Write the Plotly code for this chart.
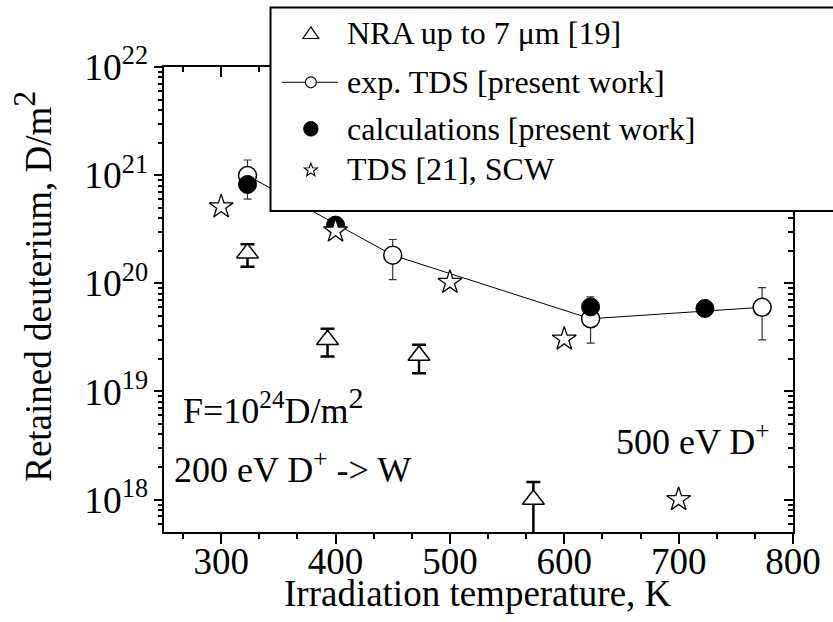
import math
import plotly.graph_objects as go

# --- data ---------------------------------------------------------------
# NRA up to 7 um [19]
T_NRA = [323, 393, 473, 573]
D_NRA = [1.9e20, 3.0e19, 2.15e19, 1.0e18]
D_NRA_HI = [2.3e20, 3.8e19, 2.7e19, 1.45e18]
D_NRA_LO = [1.42e20, 2.1e19, 1.47e19, 4.0e17]

# exp. TDS [present work]
T_EXP = [323, 450, 623, 773]
D_EXP = [9.9e20, 1.82e20, 4.7e19, 6.0e19]
D_EXP_HI = [1.38e21, 2.54e20, 7.5e19, 9.1e19]
D_EXP_LO = [6.0e20, 1.08e20, 2.8e19, 3.0e19]

# calculations [present work]
T_CALC = [323, 400, 623, 723]
D_CALC = [8.2e20, 3.45e20, 6.05e19, 5.85e19]

# TDS [21], SCW
T_SCW = [300, 400, 500, 600, 700]
D_SCW = [5.1e20, 3.05e20, 1.02e20, 3.05e19, 1.0e18]

X_TICKS = [300, 400, 500, 600, 700, 800]
Y_TICKS = [1e18, 1e19, 1e20, 1e21, 1e22]

X_RANGE = [250, 800]
Y_RANGE_LOG = [17.7, 22]

LEGEND_LABELS = ["NRA up to 7 \u03bcm [19]", "exp. TDS [present work]",
                 "calculations [present work]", "TDS [21], SCW"]

FONT = "Liberation Serif, Times New Roman, serif"

# page geometry of the plotting area (px)
W, H = 833, 622
L, R, T, B = 164, 33, 66.7, 90.3
PW, PH = W - L - R, H - T - B


def px(x):
    return (x - L) / PW


def py(y):
    return (H - B - y) / PH


def plus(hi, v):
    return [h - x for h, x in zip(hi, v)]


def minus(lo, v):
    return [x - l for l, x in zip(lo, v)]


fig = go.Figure()

fig.add_trace(go.Scatter(
    x=T_NRA, y=D_NRA, mode="markers", name=LEGEND_LABELS[0],
    marker=dict(symbol="triangle-up", size=19, color="white",
                line=dict(color="black", width=1.5)),
    error_y=dict(type="data", symmetric=False,
                 array=plus(D_NRA_HI, D_NRA),
                 arrayminus=minus(D_NRA_LO, D_NRA),
                 color="black", thickness=2.5, width=7),
))

fig.add_trace(go.Scatter(
    x=T_EXP, y=D_EXP, mode="lines+markers", name=LEGEND_LABELS[1],
    line=dict(color="black", width=1),
    marker=dict(symbol="circle", size=18, color="white",
                line=dict(color="black", width=1.5)),
    error_y=dict(type="data", symmetric=False,
                 array=plus(D_EXP_HI, D_EXP),
                 arrayminus=minus(D_EXP_LO, D_EXP),
                 color="#333333", thickness=1.2, width=4),
))

fig.add_trace(go.Scatter(
    x=T_CALC, y=D_CALC, mode="markers", name=LEGEND_LABELS[2],
    marker=dict(symbol="circle", size=18, color="black",
                line=dict(color="black", width=1)),
))

fig.add_trace(go.Scatter(
    x=T_SCW, y=D_SCW, mode="markers", name=LEGEND_LABELS[3],
    marker=dict(symbol="star", size=18, color="white",
                line=dict(color="black", width=1.3)),
))

# carrier for the top / right frame axes
fig.add_trace(go.Scatter(x=[None], y=[None], xaxis="x2", yaxis="y2",
                         showlegend=False, hoverinfo="skip"))

x_dtick = X_TICKS[1] - X_TICKS[0]
y_dtick = math.log10(Y_TICKS[1]) - math.log10(Y_TICKS[0])

axis_common = dict(showgrid=False, zeroline=False, showline=True,
                   linecolor="black", linewidth=2, tickcolor="black")
x_ticks = dict(range=X_RANGE, tickmode="linear", tick0=X_TICKS[0],
               dtick=x_dtick)
y_ticks = dict(type="log", range=Y_RANGE_LOG, tickmode="linear",
               tick0=0, dtick=y_dtick)

# --- legend drawn as shapes + annotations -------------------------------
LEG_BOX = (271.7, 7.3, 900, 210.7)       # left, top, right, bottom (px)
ROW_Y = [33, 82, 128.5, 169]
SYM_X = 312.5
TEXT_X = 346.7

shapes = [dict(type="rect", xref="paper", yref="paper",
               x0=px(LEG_BOX[0]), x1=px(LEG_BOX[2]),
               y0=py(LEG_BOX[3]), y1=py(LEG_BOX[1]),
               line=dict(color="black", width=2), fillcolor="white",
               layer="above")]


def path_from(points):
    pts = ["%s%.5f,%.5f" % ("M" if i == 0 else "L", px(x), py(y))
           for i, (x, y) in enumerate(points)]
    return " ".join(pts) + " Z"


# triangle key
cx, cy = SYM_X, ROW_Y[0]
tri = [(cx, cy - 6.5), (cx + 8, cy + 5.2), (cx - 8, cy + 5.2)]
shapes.append(dict(type="path", xref="paper", yref="paper",
                   path=path_from(tri), fillcolor="white",
                   line=dict(color="black", width=1.2), layer="above"))

# line + open circle key
cy = ROW_Y[1]
shapes.append(dict(type="line", xref="paper", yref="paper",
                   x0=px(283.3), x1=px(340), y0=py(cy), y1=py(cy),
                   line=dict(color="black", width=1), layer="above"))
shapes.append(dict(type="circle", xref="paper", yref="paper",
                   x0=px(SYM_X - 5.5), x1=px(SYM_X + 5.5),
                   y0=py(cy + 5.5), y1=py(cy - 5.5), fillcolor="white",
                   line=dict(color="black", width=1.2), layer="above"))

# filled circle key
cy = ROW_Y[2]
shapes.append(dict(type="circle", xref="paper", yref="paper",
                   x0=px(SYM_X - 7.3), x1=px(SYM_X + 7.3),
                   y0=py(cy + 7.3), y1=py(cy - 7.3), fillcolor="black",
                   line=dict(color="black", width=1), layer="above"))

# star key
cy = ROW_Y[3]
star = []
for k in range(10):
    rad = 7.0 if k % 2 == 0 else 2.9
    ang = -math.pi / 2 + k * math.pi / 5
    star.append((SYM_X + rad * math.cos(ang), cy + 0.8 + rad * math.sin(ang)))
shapes.append(dict(type="path", xref="paper", yref="paper",
                   path=path_from(star), fillcolor="white",
                   line=dict(color="black", width=1.1), layer="above"))

annotations = []
for label, yy in zip(LEGEND_LABELS, ROW_Y):
    annotations.append(dict(text=label, xref="paper", yref="paper",
                            x=px(TEXT_X), y=py(yy), xanchor="left",
                            yanchor="middle", showarrow=False,
                            font=dict(size=32)))

annotations += [
    dict(text="F=10<sup>24</sup>D/m<sup><span style='font-size:30px'>2</span></sup>",
         xref="paper", yref="paper", x=px(181), y=py(406),
         xanchor="left", yanchor="middle", showarrow=False,
         font=dict(size=36)),
    dict(text="200 eV D<sup>+</sup> -> W", xref="paper", yref="paper",
         x=px(172), y=py(467), xanchor="left", yanchor="middle",
         showarrow=False, font=dict(size=36)),
    dict(text="500 eV D<sup>+</sup>", xref="paper", yref="paper",
         x=px(619), y=py(439), xanchor="left", yanchor="middle",
         showarrow=False, font=dict(size=36)),
    # axis titles
    dict(text="Irradiation temperature, K", xref="paper", yref="paper",
         x=px(481.5), y=py(593), xanchor="center", yanchor="middle",
         showarrow=False, font=dict(size=37)),
    dict(text="Retained deuterium, D/m<sup><span style='font-size:32px'>2</span></sup>",
         xref="paper", yref="paper", x=px(31), y=py(286),
         xanchor="center", yanchor="middle", textangle=-90,
         showarrow=False, font=dict(size=37)),
]

fig.update_layout(
    width=W, height=H,
    margin=dict(l=L, r=R, t=T, b=B),
    paper_bgcolor="white", plot_bgcolor="white",
    font=dict(family=FONT, size=37, color="black"),
    showlegend=False,
    xaxis=dict(
        **x_ticks,
        ticks="outside", ticklen=10, tickwidth=2, ticklabelstandoff=-14,
        minor=dict(ticks="outside", ticklen=5, tickwidth=2,
                   dtick=x_dtick / 3),
        tickfont=dict(size=37),
        **axis_common,
    ),
    yaxis=dict(
        **y_ticks,
        exponentformat="power", showexponent="all",
        ticks="outside", ticklen=8, tickwidth=2,
        minor=dict(ticks="outside", ticklen=4, tickwidth=1.5, dtick="D1"),
        # power-format log labels are drawn 1.25x the tick font size
        tickfont=dict(size=30),
        **axis_common,
    ),
    xaxis2=dict(
        **x_ticks, overlaying="x", side="top", anchor="y",
        showticklabels=False, ticks="inside", ticklen=10, tickwidth=2,
        minor=dict(ticks="inside", ticklen=5, tickwidth=2,
                   dtick=x_dtick / 3),
        **axis_common,
    ),
    yaxis2=dict(
        **y_ticks, overlaying="y", side="right", anchor="x",
        showticklabels=False, ticks="inside", ticklen=9, tickwidth=2,
        minor=dict(ticks="inside", ticklen=5, tickwidth=1.5, dtick="D1"),
        **axis_common,
    ),
    shapes=shapes,
    annotations=annotations,
)

fig.write_html("out.html")
